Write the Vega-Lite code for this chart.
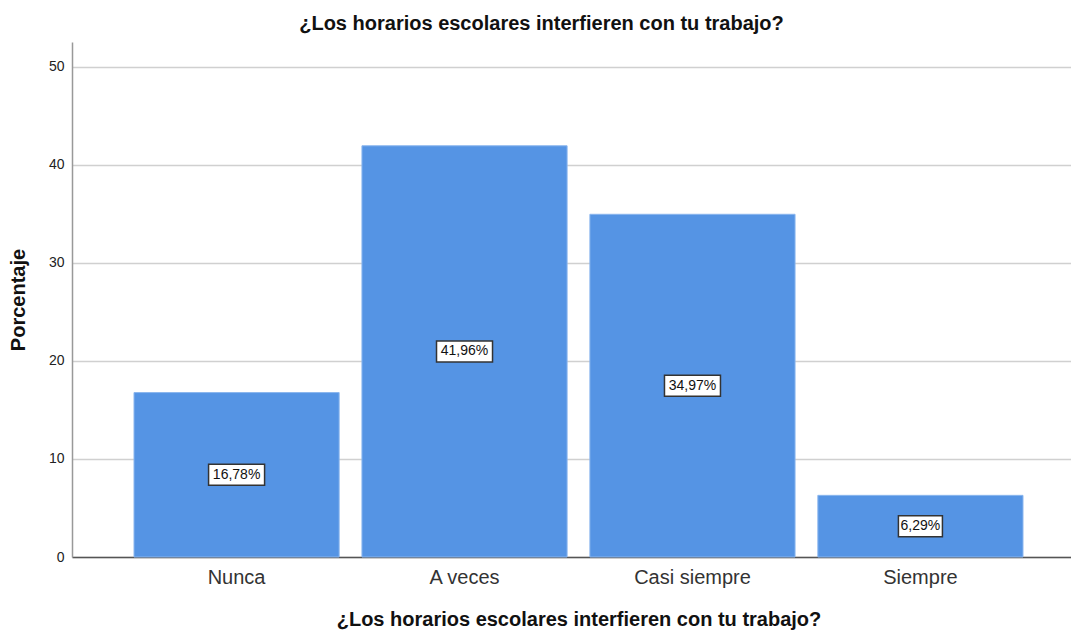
{
  "$schema": "https://vega.github.io/schema/vega-lite/v6.json",
  "autosize": {"type": "none"},
  "padding": {"left": 72, "top": 42, "right": 0, "bottom": 74},
  "width": 1013,
  "height": 515,
  "background": "white",
  "title": {
    "text": "¿Los horarios escolares interfieren con tu trabajo?",
    "font": "Liberation Sans",
    "fontSize": 20,
    "fontWeight": "bold",
    "color": "#111111",
    "anchor": "middle",
    "dx": -37,
    "offset": 8
  },
  "config": {
    "view": {"stroke": null},
    "font": "Liberation Sans"
  },
  "data": {
    "values": [
      {"cat": "Nunca", "pct": 16.78, "label": "16,78%"},
      {"cat": "A veces", "pct": 41.96, "label": "41,96%"},
      {"cat": "Casi siempre", "pct": 34.97, "label": "34,97%"},
      {"cat": "Siempre", "pct": 6.29, "label": "6,29%"}
    ]
  },
  "transform": [
    {"calculate": "datum.pct / 2", "as": "mid"},
    {"calculate": "length(datum.label)", "as": "nch"}
  ],
  "encoding": {
    "x": {
      "field": "cat",
      "type": "nominal",
      "sort": null,
      "scale": {"paddingInner": 0.1, "paddingOuter": 0.272},
      "axis": {
        "title": "¿Los horarios escolares interfieren con tu trabajo?",
        "titleFont": "Liberation Sans",
        "titleFontSize": 20,
        "titleFontWeight": "bold",
        "titleColor": "#111111",
        "titlePadding": 22,
        "labelFont": "Liberation Sans",
        "labelFontSize": 20,
        "labelColor": "#333333",
        "labelPadding": 10,
        "labelAngle": 0,
        "ticks": false,
        "domainColor": "#555555",
        "domainWidth": 1.5,
        "grid": false
      }
    }
  },
  "layer": [
    {
      "mark": {"type": "bar", "color": "#5594e4", "stroke": "#8bb6ee", "strokeWidth": 1},
      "encoding": {
        "y": {
          "field": "pct",
          "type": "quantitative",
          "scale": {"domain": [0, 52.55], "nice": false},
          "axis": {
            "title": "Porcentaje",
            "titleFont": "Liberation Sans",
            "titleFontSize": 20,
            "titleFontWeight": "bold",
            "titleColor": "#111111",
            "titlePadding": 20,
            "values": [0, 10, 20, 30, 40, 50],
            "labelFont": "Liberation Sans",
            "labelFontSize": 14,
            "labelColor": "#222222",
            "labelPadding": 8,
            "ticks": false,
            "domainColor": "#999999",
            "domainWidth": 1.5,
            "grid": true,
            "gridColor": "#d0d0d0",
            "gridWidth": 1.5
          }
        }
      }
    },
    {
      "mark": {
        "type": "point",
        "filled": true,
        "fill": "white",
        "stroke": "#333333",
        "strokeWidth": 1.5,
        "opacity": 1
      },
      "encoding": {
        "y": {"field": "mid", "type": "quantitative"},
        "shape": {
          "field": "nch",
          "type": "nominal",
          "scale": {"domain": [5, 6], "range": ["M-1,-0.477L1,-0.477L1,0.477L-1,0.477Z", "M-1,-0.375L1,-0.375L1,0.375L-1,0.375Z"]},
          "legend": null
        },
        "size": {
          "field": "nch",
          "type": "quantitative",
          "scale": {"domain": [5, 6], "range": [1936, 3136]},
          "legend": null
        }
      }
    },
    {
      "mark": {"type": "text", "font": "Liberation Sans", "fontSize": 14, "color": "#111111", "baseline": "middle"},
      "encoding": {
        "y": {"field": "mid", "type": "quantitative"},
        "text": {"field": "label"}
      }
    }
  ]
}
